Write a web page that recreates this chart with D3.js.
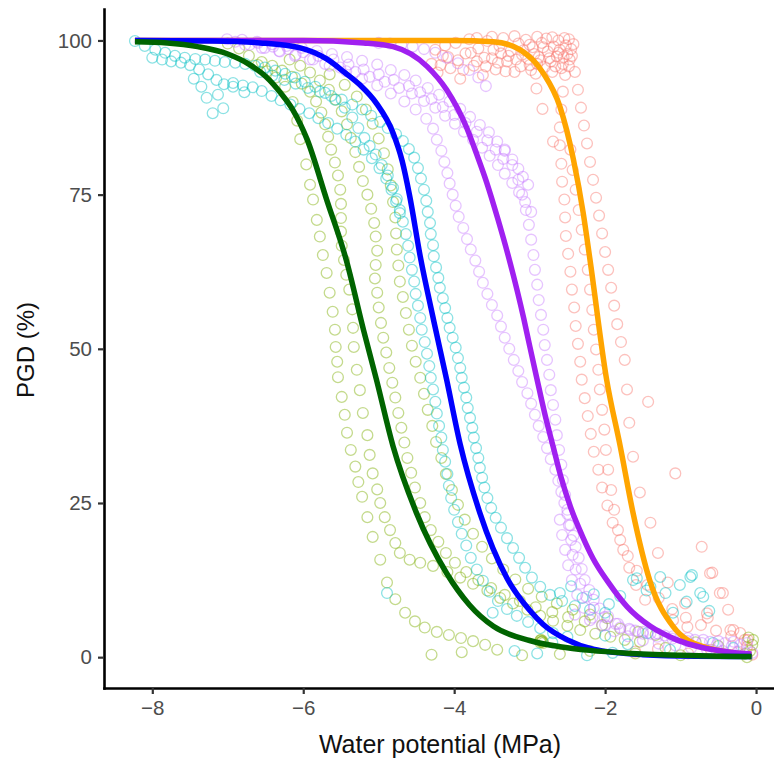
<!DOCTYPE html>
<html><head><meta charset="utf-8">
<script src="https://cdn.jsdelivr.net/npm/d3@7"></script>
<style>html,body{margin:0;padding:0;background:#fff;}svg{display:block;}</style>
</head><body>
<svg id="chart" width="774" height="764"></svg>
<script>
const xTicks = [-8, -6, -4, -2, 0];
const yTicks = [0, 25, 50, 75, 100];
const xTitle = "Water potential (MPa)";
const yTitle = "PGD (%)";

// observed points (water potential, PGD %), one array per recorded trace
const redTraces = [
  [[-4.3,96.2],[-4.22,94.8],[-4.15,97.5],[-4.05,95.5],[-3.98,99.6],[-3.92,93.8],[-3.85,97.9],[-3.8,100.2],[-3.74,95.9],[-3.68,98.7],[-3.62,94.4],[-3.56,99.9],[-3.5,97.1],[-3.45,95.3],[-3.4,99.1],[-3.35,100.4],[-3.3,96.6],[-3.25,98.3],[-3.2,94.9],[-3.15,99.5],[-3.1,97.7],[-3.05,100.1],[-3.0,96.0],[-2.96,98.9],[-2.92,94.6],[-2.88,97.3],[-2.84,99.6],[-2.8,95.7],[-2.76,98.2],[-2.72,96.6],[-2.68,99.0],[-2.64,97.4],[-2.6,98.5],[-2.56,96.2],[-2.52,99.2],[-2.5,97.8],[-2.47,96.9],[-2.45,98.6],[-3.6,97.2],[-3.38,97.9],[-3.12,95.8],[-2.9,96.2],[-2.7,94.9],[-2.58,95.5],[-3.95,96.8],[-4.12,99.2],[-3.5,100.6],[-3.0,99.3],[-2.78,100.3],[-2.62,100.0]],
  [[-4.25,98.5],[-4.18,96.0],[-4.08,97.3],[-3.88,95.2],[-3.78,98.0],[-3.7,96.6],[-3.58,95.8],[-3.48,98.5],[-3.42,96.4],[-3.32,95.0],[-3.28,97.5],[-3.18,96.9],[-3.08,98.4],[-3.02,97.0],[-2.98,95.2],[-2.94,97.8],[-2.86,96.8],[-2.82,98.9],[-2.74,97.1],[-2.66,95.8],[-2.62,98.0],[-2.55,97.3],[-2.48,95.8],[-2.44,97.5],[-2.42,99.4],[-2.48,100.2],[-2.54,100.4],[-2.7,100.5],[-2.9,100.6],[-3.2,100.7],[-3.7,100.4]],
  [[-2.53,94.4],[-2.56,91.7],[-2.58,88.8],[-2.6,85.9],[-2.6,83.0],[-2.58,80.0],[-2.57,77.1],[-2.54,74.2],[-2.53,71.3],[-2.52,68.3],[-2.49,65.4],[-2.46,62.5],[-2.44,59.6],[-2.41,56.7],[-2.39,53.7],[-2.36,50.8],[-2.33,47.9],[-2.31,45.0],[-2.27,42.0],[-2.23,39.1],[-2.19,36.2],[-2.15,33.3],[-2.09,30.4],[-2.04,27.5],[-1.97,24.6],[-1.9,21.8],[-1.8,19.0],[-1.7,16.4],[-1.58,14.0],[-1.44,11.7],[-1.29,9.6],[-1.11,7.8],[-0.93,6.4],[-0.73,5.2],[-0.53,4.3],[-0.33,3.4],[-0.15,2.8]],
  [[-2.4,94.9],[-2.36,92.0],[-2.32,89.1],[-2.28,86.2],[-2.24,83.3],[-2.2,80.3],[-2.16,77.4],[-2.12,74.5],[-2.08,71.6],[-2.04,68.7],[-2.0,65.7],[-1.96,62.8],[-1.92,59.9],[-1.88,57.0],[-1.84,54.0],[-1.79,51.1],[-1.74,48.2],[-1.71,43.4],[-1.68,38.0],[-1.63,32.5],[-1.54,26.7],[-1.4,21.8],[-1.3,16.9],[-1.17,12.1],[-0.94,8.7],[-0.64,6.4],[-0.34,4.4],[-0.11,2.8]],
  [[-2.46,82.3],[-2.43,79.0],[-2.39,75.8],[-2.35,72.5],[-2.31,69.3],[-2.27,66.1],[-2.23,62.8],[-2.2,59.6],[-2.17,56.3],[-2.15,53.1],[-2.12,49.9],[-2.09,46.6],[-2.07,43.4],[-2.04,40.1],[-2.01,36.9],[-1.99,33.6],[-1.96,30.4],[-1.92,27.1],[-1.88,23.9],[-1.83,20.6],[-1.76,17.4],[-1.68,14.5],[-1.59,11.7],[-1.47,9.3]],
  [[-2.91,92.2],[-2.83,88.9],[-2.69,83.6],[-1.43,41.4],[-1.07,29.8],[-0.72,17.9],[-0.58,13.7],[-0.44,10.4],[-0.37,7.7],[-0.21,3.9],[-0.12,1.7],[-0.61,13.6],[-0.48,10.4],[-0.3,4.4],[-0.65,7.1],[-0.91,4.9],[-1.1,6.0],[-0.9,0.6],[-0.6,1.2],[-0.25,0.8],[-0.05,0.4],[-1.3,1.3],[-1.6,0.9]]
];

const oliveTraces = [
  [[-7.0,99.5],[-6.85,98.7],[-6.72,97.5],[-6.6,96.0],[-6.48,95.0],[-6.36,94.0],[-6.24,92.5],[-6.14,90.0],[-6.08,87.0],[-6.04,84.0],[-5.96,79.9],[-5.91,76.6],[-5.87,74.2],[-5.82,70.9],[-5.78,68.2],[-5.74,65.2],[-5.69,62.3],[-5.65,59.1],[-5.61,56.0],[-5.58,53.1],[-5.57,50.3],[-5.55,47.9],[-5.54,45.4],[-5.49,42.2],[-5.45,39.3],[-5.42,36.4],[-5.37,33.6],[-5.31,30.9],[-5.27,28.4],[-5.22,26.0],[-5.15,22.7],[-5.08,19.5],[-4.98,15.8],[-4.89,12.1],[-4.78,9.4],[-4.65,7.2],[-4.52,5.8],[-4.39,4.8],[-4.23,4.1],[-4.07,3.6],[-3.91,3.1],[-3.75,2.6],[-3.59,2.0],[-3.43,1.2]],
  [[-6.55,96.5],[-6.41,95.9],[-6.28,95.1],[-6.15,94.1],[-6.02,93.0],[-5.91,91.7],[-5.83,90.1],[-5.76,88.3],[-5.71,86.4],[-5.67,84.4],[-5.63,82.3],[-5.58,80.2],[-5.54,78.1],[-5.51,75.8],[-5.5,73.5],[-5.5,71.2],[-5.5,69.0],[-5.49,66.7],[-5.46,64.4],[-5.43,62.0],[-5.39,59.6],[-5.35,56.4],[-5.34,53.4],[-5.33,50.3],[-5.29,46.6],[-5.25,43.3],[-5.21,39.6],[-5.15,36.0],[-5.12,32.8],[-5.08,29.8],[-5.02,27.2],[-4.98,25.0],[-4.92,22.7],[-4.85,20.6],[-4.78,18.5],[-4.72,16.9],[-4.59,15.8],[-4.45,15.3],[-4.28,14.8],[-4.09,13.8],[-3.92,12.9],[-3.75,11.9],[-3.56,10.8],[-3.39,9.6],[-3.22,8.7],[-3.03,7.7],[-2.86,6.7],[-2.69,5.9],[-2.5,5.1],[-2.33,4.4],[-2.13,3.8],[-1.93,3.3],[-1.74,2.8],[-1.54,2.5]],
  [[-6.18,96.9],[-6.04,95.9],[-5.91,94.8],[-5.78,93.5],[-5.66,92.0],[-5.57,90.4],[-5.49,88.5],[-5.42,86.4],[-5.37,84.2],[-5.31,81.9],[-5.26,79.5],[-5.21,77.2],[-5.15,75.0],[-5.1,72.7],[-5.06,70.4],[-5.04,68.2],[-5.02,65.9],[-5.04,63.6],[-5.05,61.4],[-5.02,59.1],[-5.0,56.7],[-4.97,54.2],[-4.94,51.8],[-4.9,49.4],[-4.86,46.9],[-4.82,44.5],[-4.78,42.1],[-4.74,39.6],[-4.7,37.2],[-4.66,34.8],[-4.62,32.3],[-4.57,29.9],[-4.52,27.5],[-4.45,25.0],[-4.39,22.7],[-4.31,20.6],[-4.21,18.7],[-4.11,16.9],[-3.99,15.3],[-3.84,13.8],[-3.68,12.5],[-3.51,11.2],[-3.33,10.1],[-3.13,9.1],[-2.92,8.1],[-2.7,7.3],[-2.49,6.5],[-2.27,5.8],[-2.04,5.2],[-1.8,4.6],[-1.56,4.1],[-1.33,3.6]],
  [[-5.65,94.5],[-5.45,92.8],[-5.29,90.9],[-5.17,88.8],[-5.08,86.5],[-5.0,84.1],[-4.93,81.7],[-4.88,79.1],[-4.84,76.5],[-4.81,73.8],[-4.78,71.3],[-4.77,68.7],[-4.76,66.1],[-4.74,63.5],[-4.72,60.9],[-4.68,58.4],[-4.64,55.8],[-4.6,53.1],[-4.56,50.5],[-4.51,47.9],[-4.45,45.3],[-4.4,42.7],[-4.35,40.1],[-4.29,37.5],[-4.24,34.9],[-4.17,32.3],[-4.11,29.7],[-4.03,27.1],[-3.95,24.7],[-3.86,22.3],[-3.75,20.0],[-3.63,17.9],[-3.5,16.0],[-3.35,14.2],[-3.19,12.6],[-3.02,11.1],[-2.84,9.8],[-2.64,8.7],[-2.43,7.7],[-2.2,6.9],[-1.97,6.3]],
  [[-2.86,2.4],[-2.83,2.6],[-2.85,2.8],[-2.82,2.3],[-2.84,2.5],[-2.86,2.7],[-2.6,0.5],[-2.2,1.0],[-1.6,0.6],[-1.2,1.5],[-0.8,2.4],[-0.5,1.8],[-0.1,3.2],[-0.05,2.0],[-0.08,1.0],[-0.15,0.5],[-1.0,0.3],[-3.9,0.8],[-4.3,0.4],[-3.1,0.3],[-0.04,2.8],[-0.12,0.0]]
];

const cyanTraces = [
  [[-8.23,99.9],[-8.1,99.1],[-7.96,98.5],[-7.83,98.0],[-7.7,97.5],[-7.57,97.2],[-7.43,97.0],[-7.3,96.9],[-7.17,96.7],[-7.04,96.5],[-6.9,96.4],[-6.77,96.2],[-6.64,95.9],[-6.51,95.6],[-6.37,95.1],[-6.24,94.6],[-6.11,94.0],[-5.98,93.3],[-5.84,92.5],[-5.71,91.5],[-5.58,90.4],[-5.45,89.1],[-5.35,87.5],[-5.27,85.8],[-5.19,84.2],[-5.12,82.9],[-5.04,81.5],[-4.96,79.8],[-4.88,78.1],[-4.81,76.1],[-4.76,74.3],[-4.72,72.5],[-4.68,70.6],[-4.64,68.6],[-4.61,66.7],[-4.59,64.8],[-4.56,62.8],[-4.53,60.9],[-4.51,58.9],[-4.48,57.0],[-4.45,55.0],[-4.43,53.1],[-4.39,51.1],[-4.36,49.2],[-4.33,47.2],[-4.31,45.3],[-4.28,43.4],[-4.25,41.4],[-4.23,39.5],[-4.2,37.5],[-4.17,35.6],[-4.15,33.6],[-4.12,31.7],[-4.09,29.7],[-4.07,27.8],[-4.04,25.8],[-4.0,23.9],[-3.95,21.9],[-3.9,20.0],[-3.84,18.1],[-3.78,16.1],[-3.7,14.2],[-3.62,12.4],[-3.53,10.6],[-3.42,9.1],[-3.3,7.8],[-3.17,6.7],[-3.02,5.7],[-2.86,4.7],[-2.69,3.9],[-2.5,3.3]],
  [[-6.57,94.9],[-6.41,94.3],[-6.25,93.6],[-6.1,93.0],[-5.94,92.3],[-5.78,91.7],[-5.63,91.0],[-5.49,90.4],[-5.35,89.6],[-5.22,88.8],[-5.1,87.8],[-4.98,86.8],[-4.88,85.8],[-4.77,84.8],[-4.68,83.7],[-4.6,82.4],[-4.53,81.0],[-4.48,79.3],[-4.44,77.6],[-4.4,75.8],[-4.37,74.0],[-4.35,72.2],[-4.32,70.4],[-4.31,68.6],[-4.28,66.8],[-4.27,65.0],[-4.24,63.2],[-4.21,61.5],[-4.19,59.9],[-4.15,58.2],[-4.12,56.6],[-4.09,55.0],[-4.06,53.4],[-4.02,51.8],[-3.98,50.2],[-3.95,48.5],[-3.92,46.9],[-3.9,45.3],[-3.87,43.7],[-3.84,42.1],[-3.82,40.4],[-3.79,38.8],[-3.76,37.2],[-3.74,35.6],[-3.71,33.9],[-3.68,32.3],[-3.66,30.7],[-3.63,29.1],[-3.6,27.5],[-3.56,25.8],[-3.51,24.2],[-3.45,22.6],[-3.38,21.0],[-3.3,19.3],[-3.22,17.7],[-3.14,16.1],[-3.06,14.5],[-2.97,12.9],[-2.86,11.4],[-2.73,10.1],[-2.57,9.1],[-2.4,8.3],[-2.2,7.7],[-2.0,7.2]],
  [[-8.0,97.2],[-7.87,96.9],[-7.75,96.6],[-7.62,96.4],[-7.5,96.0],[-7.38,95.3],[-7.26,94.5],[-7.15,93.6],[-7.05,92.9],[-6.93,92.5],[-6.8,92.7],[-6.67,92.4],[-6.55,91.8],[-6.42,91.0],[-6.3,90.3],[-6.17,89.6],[-6.05,88.9],[-5.92,88.2],[-5.8,87.4],[-5.67,86.6],[-5.55,85.7],[-5.43,84.7],[-5.31,83.6],[-5.2,82.3],[-5.09,80.9],[-4.99,79.3],[-4.9,77.6],[-4.83,75.8],[-4.77,73.9],[-4.72,72.0]],
  [[-7.2,88.2],[-7.06,89.0],[-7.13,91.2],[-7.28,90.7],[-7.35,92.5],[-7.45,93.8],[-6.93,93.1],[-6.78,91.6]],
  [[-4.89,10.4],[-3.49,7.2],[-2.6,10.4],[-2.45,11.5],[-2.3,9.6],[-2.15,10.2],[-1.95,8.6],[-1.8,9.9],[-1.63,12.5],[-1.58,12.8],[-1.45,10.8],[-1.4,11.4],[-1.27,13.0],[-1.2,10.4],[-1.1,7.2],[-1.01,11.7],[-0.92,9.0],[-0.87,13.0],[-0.85,13.3],[-0.74,10.4],[-0.7,9.8],[-0.62,7.5],[-1.44,3.9],[-2.24,0.3],[-1.9,0.7],[-1.14,1.2],[-0.57,2.3],[-0.3,1.5],[-3.2,1.0],[-2.9,0.6],[-2.7,2.4],[-2.0,3.5],[-1.7,2.1]]
];

const purpleTraces = [
  [[-7.01,100.2],[-6.81,100.1],[-6.61,99.8],[-6.41,99.4],[-6.22,99.1],[-6.02,98.8],[-5.82,98.3],[-5.62,97.8],[-5.42,97.3],[-5.22,96.7],[-5.02,96.1],[-4.84,95.2],[-4.66,94.4],[-4.51,93.5],[-4.35,92.3],[-4.2,91.2],[-4.06,90.1],[-3.92,88.9],[-3.79,87.6],[-3.66,86.3],[-3.54,85.1],[-3.43,83.6],[-3.33,82.1],[-3.23,80.7],[-3.15,79.2],[-3.09,77.9],[-3.02,76.6]],
  [[-6.77,99.3],[-6.55,98.8],[-6.32,98.3],[-6.1,97.7],[-5.87,96.9],[-5.65,95.9],[-5.43,95.0],[-5.22,93.8],[-5.02,92.7],[-4.84,91.4],[-4.66,90.1],[-4.51,88.8],[-4.37,87.3],[-4.28,85.7],[-4.23,83.9],[-4.17,82.1],[-4.13,80.3],[-4.09,78.5],[-4.06,76.8],[-4.02,75.0],[-3.98,73.2],[-3.94,71.4],[-3.88,69.6],[-3.83,67.8],[-3.78,66.1],[-3.72,64.3],[-3.67,62.5],[-3.62,60.7],[-3.56,58.9],[-3.5,57.1],[-3.43,55.4],[-3.38,53.6],[-3.33,51.8],[-3.27,50.0],[-3.21,48.2],[-3.15,46.4],[-3.1,44.6],[-3.03,42.8],[-2.98,41.1],[-2.93,39.3],[-2.88,37.5],[-2.82,35.7],[-2.77,33.9],[-2.72,32.1],[-2.66,30.4],[-2.62,28.6],[-2.58,26.8],[-2.54,25.0],[-2.5,23.2],[-2.46,21.4],[-2.42,19.7],[-2.39,17.9],[-2.35,16.1],[-2.31,14.3],[-2.27,12.5],[-2.21,10.9],[-2.15,9.3],[-2.07,7.9],[-1.96,6.6],[-1.83,5.4],[-1.67,4.4],[-1.5,3.8],[-1.31,3.3],[-1.11,3.0],[-0.91,2.6],[-0.72,2.3],[-0.52,2.0],[-0.32,1.8]],
  [[-3.33,82.3],[-3.23,79.8],[-3.15,77.4],[-3.1,75.0],[-3.05,72.5],[-3.01,70.1],[-2.98,67.7],[-2.95,65.2],[-2.93,62.8],[-2.9,60.4],[-2.88,57.9],[-2.85,55.5],[-2.82,53.1],[-2.8,50.6],[-2.77,48.2],[-2.74,45.8],[-2.72,43.3],[-2.69,40.9],[-2.66,38.5],[-2.64,36.0],[-2.61,33.6],[-2.58,31.2],[-2.56,28.7],[-2.53,26.3],[-2.5,23.9],[-2.48,21.4],[-2.45,19.0],[-2.43,16.6],[-2.39,14.2],[-2.33,11.9],[-2.25,9.8],[-2.15,8.0],[-2.01,6.5],[-1.86,5.4],[-1.68,4.6],[-1.5,4.1],[-1.3,3.8],[-1.1,3.4],[-0.9,3.1],[-0.7,2.8],[-0.5,2.6],[-0.3,2.5],[-0.12,2.3]],
  [[-6.9,99.8],[-6.71,99.3],[-6.51,98.8],[-6.31,98.2],[-6.11,97.5],[-5.91,96.9],[-5.71,96.2],[-5.51,95.6],[-5.31,94.9],[-5.12,94.1],[-4.92,93.3],[-4.73,92.3],[-4.56,91.4],[-4.4,90.2],[-4.25,89.1],[-4.12,87.8],[-3.99,86.5],[-3.87,85.2],[-3.75,83.9],[-3.63,82.6],[-3.53,81.3],[-3.42,79.8],[-3.33,78.4],[-3.23,76.9],[-3.14,75.4],[-3.06,73.8],[-2.98,72.2]],
  [[-6.6,99.6],[-6.4,99.0],[-6.2,98.6],[-6.0,98.1],[-5.8,97.5],[-5.6,96.9],[-5.4,96.1],[-5.2,95.3],[-5.0,94.5],[-4.8,93.6],[-4.6,92.6],[-4.45,91.6],[-4.3,90.5],[-4.15,89.2],[-4.0,87.9],[-3.85,86.6],[-3.7,85.2],[-3.56,83.8],[-3.45,82.3],[-3.35,80.8]],
  [[-2.4,6.9],[-2.2,6.0],[-2.0,5.2],[-1.8,4.8],[-1.6,4.3],[-1.4,3.8],[-1.21,3.5],[-1.01,3.1],[-0.81,2.8],[-0.61,2.5],[-0.41,2.3],[-0.21,2.0]],
  [[-2.6,22.3],[-2.57,19.8],[-2.53,17.4],[-2.49,14.9],[-2.44,12.5],[-2.37,10.1],[-2.28,8.0],[-2.17,6.4],[-2.04,5.1],[-1.88,4.2],[-1.7,3.4],[-1.5,2.7],[-1.29,2.2],[-1.07,1.9],[-0.86,1.5],[-0.65,1.2],[-0.44,1.0],[-0.23,0.9],[-0.05,0.7]],
  [[-5.0,99.6],[-4.85,99.5],[-4.7,99.3],[-4.55,99.0],[-4.4,98.6],[-4.25,98.0],[-4.1,97.2],[-3.95,96.3],[-3.8,95.2],[-3.68,94.0],[-3.58,92.6]]
];

// fitted curves
const fitOrange = [[-8.23,100],[-6.0,100],[-4.0,100],[-3.48,99.8],[-3.13,98.5],[-2.82,94.7],[-2.6,89.3],[-2.42,80.7],[-2.29,72.0],[-2.2,64.4],[-1.98,45.0],[-1.8,34.2],[-1.63,23.4],[-1.41,12.5],[-1.1,5.0],[-0.7,1.7],[-0.06,0.4]];
const fitPurple = [[-8.23,100],[-6.0,100],[-5.2,99.6],[-4.81,99.0],[-4.36,95.8],[-4.1,92.0],[-3.84,86.0],[-3.7,81.5],[-3.57,77.0],[-3.42,71.0],[-3.26,64.0],[-3.08,55.0],[-3.0,50.5],[-2.91,45.5],[-2.8,39.5],[-2.69,34.2],[-2.58,29.0],[-2.46,24.4],[-2.3,19.6],[-2.16,16.0],[-1.95,12.0],[-1.71,8.2],[-1.4,5.0],[-1.05,2.8],[-0.39,0.9],[-0.06,0.5]];
const fitBlue = [[-8.23,100],[-7.2,99.9],[-6.57,99.6],[-6.04,98.8],[-5.69,97.0],[-5.45,94.8],[-5.25,92.8],[-5.03,89.8],[-4.81,85.0],[-4.69,80.5],[-4.59,74.8],[-4.45,65.0],[-4.27,54.5],[-4.1,45.0],[-3.92,34.5],[-3.66,23.4],[-3.3,12.8],[-3.0,7.6],[-2.82,5.3],[-2.5,2.8],[-2.16,1.3],[-1.5,0.4],[-0.8,0.15],[-0.06,0.1]];
const fitGreen = [[-8.23,99.8],[-7.8,99.6],[-7.4,99.0],[-7.0,97.8],[-6.7,96.0],[-6.5,94.2],[-6.3,91.5],[-6.14,88.8],[-5.95,84.0],[-5.69,74.2],[-5.43,64.4],[-5.2,53.0],[-5.03,45.0],[-4.81,34.2],[-4.5,23.4],[-4.1,13.6],[-3.8,8.5],[-3.48,5.0],[-3.0,2.7],[-2.6,1.7],[-2.2,1.1],[-1.71,0.65],[-1.0,0.3],[-0.5,0.15],[-0.06,0.1]];

// ---- drawing ----
const svg = d3.select("#chart");
const FONT = "'Liberation Sans', Arial, Helvetica, sans-serif";
const x = d3.scaleLinear().domain([-8.64, 0.41]).range([104, 787]);
const y = d3.scaleLinear().domain([-5, 105.1]).range([688, 9]);

const pointGroups = [
  {traces: redTraces, color: "#F8766D"},
  {traces: oliveTraces, color: "#7CAE00"},
  {traces: cyanTraces, color: "#00BFC4"},
  {traces: purpleTraces, color: "#C77CFF"}
];
const gPts = svg.append("g");
pointGroups.forEach(g => {
  const pts = g.traces.flat();
  gPts.append("g").selectAll("circle").data(pts).join("circle")
    .attr("cx", d => x(d[0])).attr("cy", d => y(d[1])).attr("r", 5.4)
    .attr("fill", "none").attr("stroke", g.color)
    .attr("stroke-width", 1.3).attr("stroke-opacity", 0.45);
});

const line = d3.line().x(d => x(d[0])).y(d => y(d[1])).curve(d3.curveMonotoneX);
[[fitOrange, "#FFA500"], [fitPurple, "#A020F0"], [fitBlue, "#0000FF"], [fitGreen, "#006400"]]
  .forEach(([data, col]) => {
    svg.append("path").datum(data).attr("d", line)
      .attr("fill", "none").attr("stroke", col).attr("stroke-width", 5.5)
      .attr("stroke-linecap", "butt").attr("stroke-linejoin", "round");
  });

const yAxis = svg.append("g").attr("transform", "translate(104,0)")
  .call(d3.axisLeft(y).tickValues(yTicks).tickSize(6).tickSizeOuter(0).tickPadding(6).tickFormat(d3.format("d")));
const xAxis = svg.append("g").attr("transform", "translate(0,688)")
  .call(d3.axisBottom(x).tickValues(xTicks).tickSize(6).tickSizeOuter(0).tickPadding(6).tickFormat(d3.format("d")));
[yAxis, xAxis].forEach(a => {
  a.select(".domain").attr("stroke", "#000").attr("stroke-width", 2.6).attr("stroke-linecap", "square");
  a.selectAll(".tick line").attr("stroke", "#333").attr("stroke-width", 2.2);
  a.selectAll(".tick text").attr("fill", "#4D4D4D").style("font-family", FONT).style("font-size", "20.5px");
});

svg.append("text").attr("x", 440).attr("y", 753).attr("text-anchor", "middle")
  .style("font-family", FONT).style("font-size", "25px").attr("fill", "#111").text(xTitle);
svg.append("text").attr("transform", "translate(34,350) rotate(-90)").attr("text-anchor", "middle")
  .style("font-family", FONT).style("font-size", "24px").attr("fill", "#111").text(yTitle);
</script>
</body></html>
